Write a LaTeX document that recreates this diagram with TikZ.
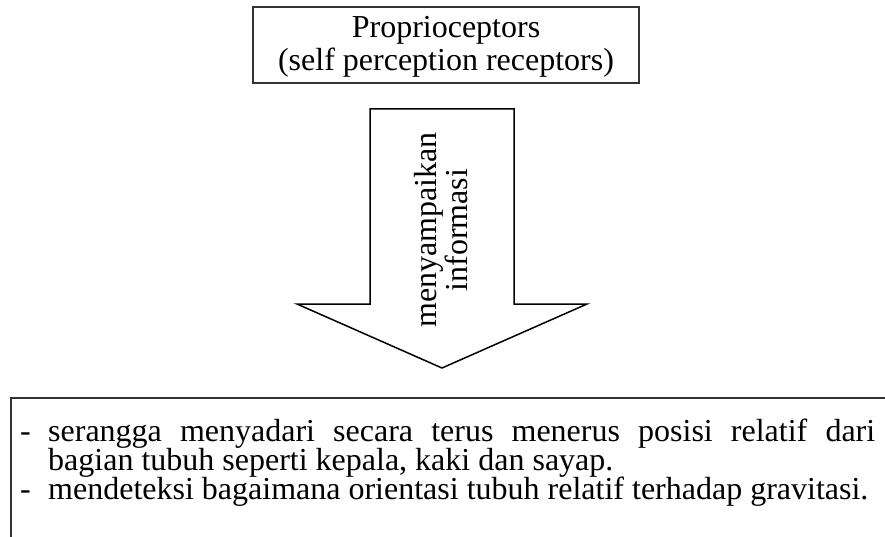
\documentclass[tikz,border=0pt]{standalone}
\usepackage{fontspec}
\setmainfont{Liberation Serif}
\begin{document}
\begin{tikzpicture}[x=1pt,y=-1pt,
  txt/.style={font=\fontsize{32}{37}\selectfont, inner sep=0pt},
  boxline/.style={draw=black!80, line width=2pt},
  blockarrow/.style={draw=black, line width=1.5pt, fill=white}]
\useasboundingbox (0,0) rectangle (885,537);
\clip (0,0) rectangle (885,537);
% top box
\node[boxline, minimum width=386pt, minimum height=76pt, inner sep=0pt] (top) at (446,45) {};
\node[txt, anchor=base] (t1) at (446,38) {Proprioceptors};
\node[txt, anchor=base] (t2) at (446,71) {(self perception receptors)};
% block arrow
\coordinate (s1) at (370,109);
\coordinate (s2) at (514,109);
\coordinate (s3) at (514,304);
\coordinate (h1) at (587,304);
\coordinate (tip) at (442,368);
\coordinate (h2) at (297,304);
\coordinate (s4) at (370,304);
\draw[blockarrow] (s1) -- (s2) -- (s3) -- (h1) -- (tip) -- (h2) -- (s4) -- cycle;
\node[txt, rotate=90, align=center, font=\fontsize{32}{27}\selectfont] (lab) at (441,230) {menyampaikan\\informasi};
% bottom box (cropped by the picture)
\node[boxline, anchor=north west, minimum width=950pt, minimum height=200pt, inner sep=0pt] (bot) at (10,397) {};
\node[txt, anchor=base west] (d1) at (20,441) {-};
\node[txt, anchor=base west] (l1) at (48,441) {\makebox[827pt][s]{serangga menyadari secara terus menerus posisi relatif dari}};
\node[txt, anchor=base west] (l2) at (48,470) {bagian tubuh seperti kepala, kaki dan sayap.};
\node[txt, anchor=base west] (d2) at (20,499) {-};
\node[txt, anchor=base west] (l3) at (48,499) {mendeteksi bagaimana orientasi tubuh relatif terhadap gravitasi.};
\end{tikzpicture}
\end{document}
